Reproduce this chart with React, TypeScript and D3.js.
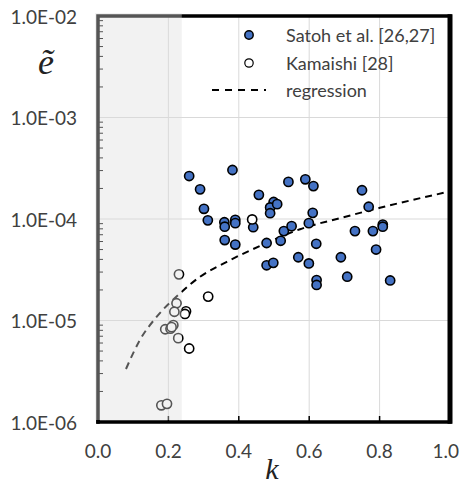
import React from "react";
import * as d3 from "d3";

const satohK = [0.259, 0.382, 0.290, 0.301, 0.312, 0.359, 0.360, 0.390, 0.390, 0.360, 0.390, 0.457, 0.441, 0.541, 0.589, 0.499, 0.489, 0.509, 0.489, 0.479, 0.528, 0.550, 0.519, 0.479, 0.498, 0.569, 0.599, 0.599, 0.612, 0.750, 0.769, 0.610, 0.730, 0.781, 0.809, 0.809, 0.620, 0.790, 0.690, 0.708, 0.621, 0.621, 0.830];
const satohE = [2.65e-4, 3.04e-4, 1.96e-4, 1.26e-4, 9.7e-5, 9.3e-5, 8.4e-5, 9.8e-5, 9.1e-5, 6.2e-5, 5.6e-5, 1.73e-4, 8.3e-5, 2.32e-4, 2.46e-4, 1.47e-4, 1.30e-4, 1.40e-4, 1.14e-4, 5.8e-5, 7.6e-5, 8.5e-5, 6.1e-5, 3.5e-5, 3.7e-5, 4.2e-5, 9.1e-5, 3.65e-5, 2.11e-4, 1.92e-4, 1.32e-4, 1.15e-4, 7.6e-5, 7.6e-5, 8.8e-5, 8.4e-5, 5.7e-5, 5.0e-5, 4.2e-5, 2.7e-5, 2.5e-5, 2.24e-5, 2.48e-5];

const kamaishiK = [0.438, 0.230, 0.313, 0.223, 0.217, 0.250, 0.247, 0.214, 0.191, 0.206, 0.209, 0.228, 0.259, 0.180, 0.196];
const kamaishiE = [9.9e-5, 2.85e-5, 1.72e-5, 1.48e-5, 1.22e-5, 1.23e-5, 1.16e-5, 9.0e-6, 8.2e-6, 8.3e-6, 8.6e-6, 6.7e-6, 5.3e-6, 1.46e-6, 1.51e-6];

const regK = [0.0795, 0.119, 0.167, 0.233, 0.290, 0.366, 0.460, 0.574, 0.697, 0.801, 1.0];
const regE = [3.33e-6, 6.43e-6, 1.09e-5, 1.85e-5, 2.70e-5, 3.79e-5, 5.42e-5, 7.93e-5, 1.04e-4, 1.29e-4, 1.87e-4];

const xTicks = [0.0, 0.2, 0.4, 0.6, 0.8, 1.0];
const yTicks = [1e-6, 1e-5, 1e-4, 1e-3, 1e-2];
const yTickLabels = ["1.0E-06", "1.0E-05", "1.0E-04", "1.0E-03", "1.0E-02"];
const shadeK = 0.238;
const legendLabels = ["Satoh et al. [26,27]", "Kamaishi [28]", "regression"];

const W = 461, H = 484;
const L = 98, R = 450, T = 16, B = 422;
const FONT = "Lato, 'Open Sans', sans-serif";
const SERIF = "'Liberation Serif', 'DejaVu Serif', serif";
const TXT = "#404040";

export default function App() {
  const x = d3.scaleLinear().domain([0, 1]).range([L, R]);
  const y = d3.scaleLog().domain([1e-6, 1e-2]).range([B, T]);

  const minor: number[] = [];
  for (let dec = -6; dec < -2; dec++) {
    for (let m = 2; m <= 9; m++) minor.push(m * Math.pow(10, dec));
  }

  const line = d3
    .line<number>()
    .x((_, i) => x(regK[i]))
    .y((_, i) => y(regE[i]))
    .curve(d3.curveMonotoneX);

  return (
    <svg width={W} height={H} style={{ position: "absolute", left: 0, top: 0 }} fontFamily={FONT}>
      <rect x={0} y={0} width={W} height={H} fill="#fff" />
      {xTicks.slice(1, -1).map((t) => (
        <line key={"gx" + t} x1={x(t)} x2={x(t)} y1={T} y2={B} stroke="#d9d9d9" strokeWidth={1} />
      ))}
      {yTicks.slice(1, -1).map((t) => (
        <line key={"gy" + t} x1={L} x2={R} y1={y(t)} y2={y(t)} stroke="#d9d9d9" strokeWidth={1} />
      ))}
      {minor.map((t, i) => (
        <line key={"mt" + i} x1={L} x2={L + 5} y1={y(t)} y2={y(t)} stroke="#000" strokeWidth={1} />
      ))}
      {xTicks.slice(1, -1).map((t) => (
        <line key={"xt" + t} x1={x(t)} x2={x(t)} y1={B} y2={B - 6} stroke="#000" strokeWidth={1.5} />
      ))}
      <path d={line(regK) || ""} fill="none" stroke="#000" strokeWidth={2} strokeDasharray="7,5" />
      {satohK.map((k, i) => (
        <circle key={"s" + i} cx={x(k)} cy={y(satohE[i])} r={4.6} fill="#4472C4" stroke="#000" strokeWidth={1.6} />
      ))}
      {kamaishiK.map((k, i) => (
        <circle key={"k" + i} cx={x(k)} cy={y(kamaishiE[i])} r={4.6} fill="#fff" stroke="#000" strokeWidth={1.6} />
      ))}
      <rect x={L} y={T} width={R - L} height={B - T} fill="none" stroke="#000" strokeWidth={3.5} />
      <line x1={R} x2={R} y1={T - 1.75} y2={B + 1.75} stroke="#000" strokeWidth={5} />
      <rect x={L - 3} y={T - 3} width={x(shadeK) - L + 3} height={B - T + 1} fill="rgb(221,221,221)" fillOpacity={0.384} />
      <line x1={L} x2={L} y1={B - 2} y2={B + 1.75} stroke="#000" strokeWidth={3.5} />
      {yTicks.map((t, i) => (
        <text key={"yl" + t} x={77} y={y(t)} textAnchor="end" dominantBaseline="central" fontSize={19} fill={TXT}>
          {yTickLabels[i]}
        </text>
      ))}
      {xTicks.map((t, i) => {
        const last = i === xTicks.length - 1;
        return (
          <text
            key={"xl" + t}
            x={last ? W - 2 : x(t)}
            y={450}
            textAnchor={last ? "end" : "middle"}
            dominantBaseline="central"
            fontSize={19}
            fill={TXT}
          >
            {t.toFixed(1)}
          </text>
        );
      })}
      <text x={46} y={74} textAnchor="middle" fontSize={36} fontStyle="italic" fontFamily={SERIF} fill="#222">
        ẽ
      </text>
      <text x={272} y={479} textAnchor="middle" fontSize={30} fontStyle="italic" fontFamily={SERIF} fill="#222">
        k
      </text>
      <circle cx={249} cy={35} r={4.2} fill="#4472C4" stroke="#000" strokeWidth={1.5} />
      <circle cx={249} cy={63} r={4.2} fill="#fff" stroke="#000" strokeWidth={1.2} />
      <line x1={212} x2={266} y1={90} y2={90} stroke="#000" strokeWidth={2} strokeDasharray="7,6" />
      {legendLabels.map((s, i) => (
        <text key={s} x={286} y={35 + i * 27.5} dominantBaseline="central" fontSize={18} fill={TXT}>
          {s}
        </text>
      ))}
    </svg>
  );
}
